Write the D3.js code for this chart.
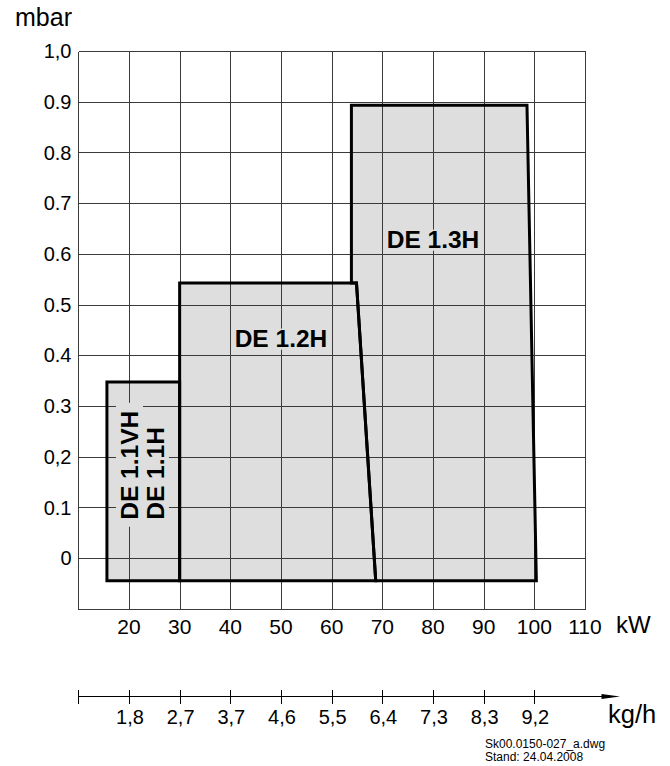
<!DOCTYPE html>
<html>
<head>
<meta charset="utf-8">
<script src="https://cdn.jsdelivr.net/npm/d3@7"></script>
<style>
  html, body { margin: 0; padding: 0; background: #fff; }
  svg { display: block; font-family: "Liberation Sans", Arial, sans-serif; }
</style>
</head>
<body>
<svg id="chart" width="670" height="766"></svg>
<script>
// ---- data ----
const kwTicks = [20, 30, 40, 50, 60, 70, 80, 90, 100, 110];
const kwGrid = [10, 20, 30, 40, 50, 60, 70, 80, 90, 100, 110];
const kghTickKw = [10, 20, 30, 40, 50, 60, 70, 80, 90, 100];
const kghLabels = ["", "1,8", "2,7", "3,7", "4,6", "5,5", "6,4", "7,3", "8,3", "9,2"];
const mbarTicks = [0, 0.1, 0.2, 0.3, 0.4, 0.5, 0.6, 0.7, 0.8, 0.9, 1.0];
const mbarLabels = ["0", "0.1", "0,2", "0.3", "0.4", "0.5", "0.6", "0.7", "0.8", "0.9", "1,0"];

// operating fields [kW, mbar]
const de11 = [[15.65, -0.045], [15.65, 0.347], [30, 0.347], [30, -0.045]];
const de12 = [[30, -0.045], [30, 0.5424], [64.9, 0.5424], [68.7, -0.045]];
const de13 = [[63.9, 0.5424], [63.9, 0.893], [98.55, 0.893], [100.4, -0.045], [68.7, -0.045], [64.9, 0.5424]];

const fieldLabels = [
  { text: "DE 1.3H", kw: 80.0, mbar: 0.612, rot: false },
  { text: "DE 1.2H", kw: 50.0, mbar: 0.4168, rot: false },
  { text: "DE 1.1VH", kw: 21.78, mbar: 0.0755, rot: true },
  { text: "DE 1.1H", kw: 26.9, mbar: 0.0755, rot: true }
];

// ---- scales ----
const svg = d3.select("#chart");
const x = d3.scaleLinear().domain([10, 110]).range([78.3, 585]);
const y = d3.scaleLinear().domain([-0.1, 1.0]).range([608.7, 51]);
const px = v => Math.round(v) + 0.5;

const gridColor = "#3a3a3a";
const fillColor = "#dedede";

// fills
const line = d3.line().x(d => x(d[0])).y(d => y(d[1]));
const fields = [de13, de12, de11];
svg.append("g").selectAll("path").data(fields).join("path")
  .attr("d", d => line(d) + "Z")
  .attr("fill", fillColor)
  .attr("stroke", "none");

// grid
const grid = svg.append("g").attr("stroke", gridColor).attr("stroke-width", 1).attr("shape-rendering", "crispEdges");
grid.selectAll("line.v").data(kwGrid).join("line").attr("class", "v")
  .attr("x1", d => px(x(d))).attr("x2", d => px(x(d)))
  .attr("y1", px(y(1.0))).attr("y2", px(y(-0.1)));
grid.selectAll("line.h").data(mbarTicks.concat([-0.1])).join("line").attr("class", "h")
  .attr("y1", d => px(y(d))).attr("y2", d => px(y(d)))
  .attr("x1", px(x(10))).attr("x2", px(x(110)));

// labels inside fields (with masks)
const lblG = svg.append("g");
fieldLabels.forEach(l => {
  const fs = 24.5;
  const g = lblG.append("g");
  const t = g.append("text")
    .text(l.text)
    .attr("font-size", fs)
    .attr("font-weight", "bold")
    .attr("fill", "#000");
  if (!l.rot) {
    t.attr("x", x(l.kw)).attr("y", y(l.mbar)).attr("text-anchor", "middle");
    const bb = t.node().getBBox();
    g.insert("rect", "text")
      .attr("x", bb.x - 1).attr("width", bb.width + 2)
      .attr("y", y(l.mbar) - fs * 0.74).attr("height", fs * 0.74 + 3)
      .attr("fill", fillColor);
  } else {
    t.attr("transform", `translate(${x(l.kw)},${y(l.mbar)}) rotate(-90)`).attr("text-anchor", "start");
    const w = t.node().getComputedTextLength();
    g.insert("rect", "text")
      .attr("x", x(l.kw) - fs * 0.9).attr("width", fs * 0.9 + 5)
      .attr("y", y(l.mbar) - w - 8).attr("height", w + 15)
      .attr("fill", fillColor);
  }
});

// outlines
svg.append("g").selectAll("path").data(fields).join("path")
  .attr("d", d => line(d) + "Z")
  .attr("fill", "none")
  .attr("stroke", "#000")
  .attr("stroke-width", 3)
  .attr("stroke-linejoin", "miter");

// y tick labels
svg.append("g").selectAll("text").data(mbarTicks).join("text")
  .attr("x", 71.5)
  .attr("y", d => y(d))
  .attr("dy", "0.36em")
  .attr("text-anchor", "end")
  .attr("font-size", 20)
  .attr("fill", "#000")
  .text((d, i) => mbarLabels[i]);

svg.append("text").attr("x", 15).attr("y", 25.5).attr("font-size", 25).attr("fill", "#000").text("mbar");

// x (kW) tick labels
svg.append("g").selectAll("text").data(kwTicks).join("text")
  .attr("x", d => x(d))
  .attr("y", 633.5)
  .attr("text-anchor", "middle")
  .attr("font-size", 21)
  .attr("fill", "#000")
  .text(d => d);
svg.append("text").attr("x", 616).attr("y", 633).attr("font-size", 24).attr("fill", "#000").text("kW");

// kg/h axis
const ay = 696.5;
const kg = svg.append("g");
kg.append("line").attr("x1", x(10)).attr("x2", 604).attr("y1", ay).attr("y2", ay)
  .attr("stroke", "#000").attr("stroke-width", 1.2);
kg.append("path").attr("d", `M601.5,${ay - 2.6}L620,${ay}L601.5,${ay + 2.6}Z`).attr("fill", "#000");
kg.selectAll("line.t").data(kghTickKw).join("line").attr("class", "t")
  .attr("x1", d => px(x(d))).attr("x2", d => px(x(d)))
  .attr("y1", ay - 6.5).attr("y2", ay + 7.5)
  .attr("stroke", "#000").attr("stroke-width", 1);
kg.selectAll("text").data(kghTickKw).join("text")
  .attr("x", d => x(d) + 1)
  .attr("y", 724)
  .attr("text-anchor", "middle")
  .attr("font-size", 20)
  .attr("fill", "#000")
  .text((d, i) => kghLabels[i]);
svg.append("text").attr("x", 608).attr("y", 723).attr("font-size", 25.5).attr("fill", "#000").text("kg/h");

// footnote
svg.append("text").attr("x", 485).attr("y", 748).attr("font-size", 12).attr("fill", "#000").text("Sk00.0150-027_a.dwg");
svg.append("text").attr("x", 485).attr("y", 761).attr("font-size", 12).attr("fill", "#000").text("Stand: 24.04.2008");
</script>
</body>
</html>
